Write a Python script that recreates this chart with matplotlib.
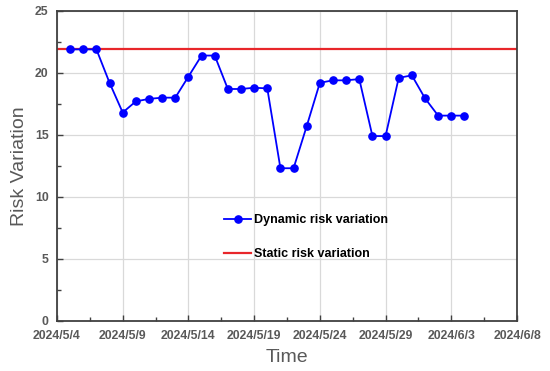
import datetime as dt
import matplotlib
matplotlib.use("Agg")
import matplotlib.pyplot as plt
import matplotlib.dates as mdates
from matplotlib.ticker import AutoMinorLocator

# daily values from 2024/5/5 to 2024/6/4
start_date = dt.date(2024, 5, 5)
dynamic_risk = [21.9, 21.9, 21.9, 19.2, 16.8, 17.7, 17.9, 18.0, 18.0, 19.7,
                21.4, 21.4, 18.7, 18.7, 18.8, 18.75, 12.3, 12.3, 15.7, 19.2,
                19.4, 19.4, 19.5, 14.9, 14.9, 19.6, 19.8, 17.95, 16.55, 16.55,
                16.55]
static_risk = 21.95

tick_dates = [dt.date(2024, 5, 4), dt.date(2024, 5, 9), dt.date(2024, 5, 14),
              dt.date(2024, 5, 19), dt.date(2024, 5, 24), dt.date(2024, 5, 29),
              dt.date(2024, 6, 3), dt.date(2024, 6, 8)]
tick_labels = ["2024/5/4", "2024/5/9", "2024/5/14", "2024/5/19",
               "2024/5/24", "2024/5/29", "2024/6/3", "2024/6/8"]
y_ticks = [0, 5, 10, 15, 20, 25]

dates = [start_date + dt.timedelta(days=i) for i in range(len(dynamic_risk))]
x = mdates.date2num(dates)
xt = mdates.date2num(tick_dates)

plt.rcParams['font.family'] = ['Liberation Sans', 'DejaVu Sans']

fig = plt.figure(figsize=(5.5, 3.71), dpi=100)
ax = fig.add_axes([0.1036, 0.136, 0.8364, 0.8344])

ax.plot(x, dynamic_risk, color='#0000FF', lw=1.3, marker='o', ms=5.2,
        label='Dynamic risk variation', zorder=3)
ax.axhline(static_risk, color='#E8262A', lw=1.6, label='Static risk variation', zorder=2)

ax.set_xlim(xt[0], xt[-1])
ax.set_ylim(0, 25)
ax.set_xticks(xt)
ax.set_xticklabels(tick_labels)
ax.set_yticks(y_ticks)
ax.xaxis.set_minor_locator(AutoMinorLocator(2))
ax.yaxis.set_minor_locator(AutoMinorLocator(2))

ax.grid(True, which='major', color='#D9D9D9', lw=0.9)
ax.set_axisbelow(True)

ax.tick_params(which='both', direction='in', colors='#404040', width=1,
               labelcolor='#595959', labelsize=8.8)
ax.tick_params(axis='x', pad=7)
ax.tick_params(axis='y', pad=6)
ax.tick_params(which='major', length=4)
ax.tick_params(which='minor', length=3)
for lbl in ax.get_xticklabels() + ax.get_yticklabels():
    lbl.set_fontweight('bold')

for sp in ax.spines.values():
    sp.set_color('#404040')
    sp.set_linewidth(1.3)

ax.set_xlabel('Time', fontsize=14, color='#595959', labelpad=5)
ax.set_ylabel('Risk Variation', fontsize=14, color='#595959', labelpad=5)

leg = ax.legend(loc='center left', bbox_to_anchor=(0.339, 0.27), frameon=False,
                handlelength=2.15, handletextpad=0.25, labelspacing=1.75,
                prop={'weight': 'bold', 'size': 9})

fig.savefig('out.png', dpi=100)
